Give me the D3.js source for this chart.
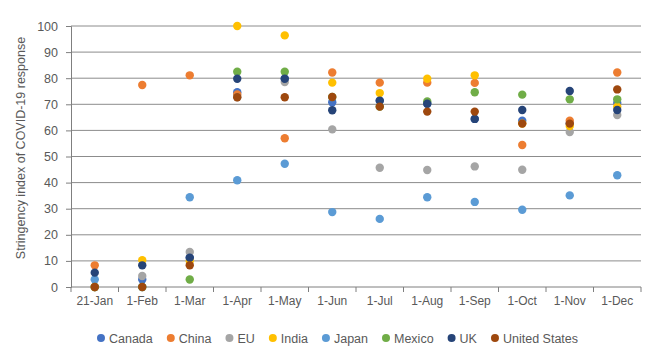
<!DOCTYPE html>
<html><head><meta charset="utf-8">
<script src="https://cdn.jsdelivr.net/npm/d3@7"></script>
<style>body{margin:0;background:#fff}svg{display:block}</style>
</head><body><svg id="c" width="669" height="360"></svg>
<script>
const categories = ["21-Jan","1-Feb","1-Mar","1-Apr","1-May","1-Jun","1-Jul","1-Aug","1-Sep","1-Oct","1-Nov","1-Dec"];
const seriesNames = ["Canada","China","EU","India","Japan","Mexico","UK","United States"];
const colors = ["#4472C4","#ED7D31","#A5A5A5","#FFC000","#5B9BD5","#70AD47","#264478","#9E480E"];
const canada = [0, 2.9, 11.2, 74.6, 79.8, 70.8, 71.4, 70.2, 64.4, 63.7, 62.6, 70.5];
const china = [8.3, 77.4, 81.1, 73.8, 57.0, 82.2, 78.3, 78.3, 78.2, 54.4, 63.7, 82.2];
const eu = [0, 4.2, 13.4, 72.7, 78.5, 60.4, 45.7, 44.8, 46.2, 44.9, 59.4, 65.9];
const india = [0, 10.3, 10, 100, 96.4, 78.3, 74.3, 79.8, 81.1, 62.6, 61.7, 69.1];
const japan = [2.9, 0, 34.4, 40.9, 47.2, 28.7, 26.1, 34.4, 32.6, 29.6, 35.1, 42.8];
const mexico = [0, 0, 2.9, 82.5, 82.5, 72.8, 69.1, 71.1, 74.6, 73.7, 71.9, 71.9];
const uk = [5.5, 8.3, 11.2, 79.8, 79.8, 67.7, 71.4, 70.2, 64.4, 67.8, 75.1, 67.8];
const us = [0, 0, 8.3, 72.7, 72.7, 72.8, 69.1, 67.2, 67.2, 62.6, 62.6, 75.7];
const yTicks = [0,10,20,30,40,50,60,70,80,90,100];
const yTitle = "Stringency index of COVID-19 response";

const values = [canada, china, eu, india, japan, mexico, uk, us];
const svg = d3.select("#c");
const font = "'Liberation Sans', Arial, sans-serif";
const txt = "#595959";
const L = 71, R = 641, T = 26, B = 287;
const x = d3.scaleBand().domain(categories).range([L, R]);
const y = d3.scaleLinear().domain([0, 100]).range([B, T]);

// gridlines
svg.append("g").selectAll("line").data(yTicks.filter(d => d > 0)).join("line")
  .attr("x1", L).attr("x2", R).attr("y1", d => y(d)).attr("y2", d => y(d))
  .attr("stroke", "#8c8c8c").attr("stroke-width", 1);

// y axis
const ya = svg.append("g").attr("transform", `translate(${L},0)`)
  .call(d3.axisLeft(y).tickValues(yTicks).tickSize(5).tickPadding(8));
ya.select(".domain").attr("stroke", "#7f7f7f");
ya.selectAll(".tick line").attr("stroke", "#7f7f7f");
ya.selectAll("text").attr("fill", txt).style("font-family", font).style("font-size", "12.5px");

// x axis
const xa = svg.append("g").attr("transform", `translate(0,${B})`)
  .call(d3.axisBottom(x).tickSize(0).tickPadding(9));
xa.select(".domain").attr("stroke", "#7f7f7f").attr("d", `M${L},0H${R}`);
xa.selectAll("text").attr("fill", txt).style("font-family", font).style("font-size", "12px");
xa.append("g").selectAll("line").data(categories.concat(["__end"])).join("line")
  .attr("x1", (d,i) => L + i * x.step()).attr("x2", (d,i) => L + i * x.step())
  .attr("y1", 0).attr("y2", 5).attr("stroke", "#7f7f7f");

// y title
svg.append("text").attr("transform", "translate(25,148) rotate(-90)")
  .attr("text-anchor", "middle").attr("fill", txt)
  .style("font-family", font).style("font-size", "12.5px").text(yTitle);

// points
values.forEach((vals, si) => {
  svg.append("g").selectAll("circle").data(vals).join("circle")
    .attr("cx", (d,i) => x(categories[i]) + x.bandwidth()/2)
    .attr("cy", d => y(d)).attr("r", 4.2).attr("fill", colors[si]);
});

// legend
const lg = svg.append("g");
let cx = 0;
seriesNames.forEach((n, i) => {
  const g = lg.append("g").attr("transform", `translate(${cx},0)`);
  g.append("circle").attr("cx", 4).attr("cy", 0).attr("r", 4).attr("fill", colors[i]);
  const t = g.append("text").attr("x", 12).attr("y", 4.5).attr("fill", txt)
    .style("font-family", font).style("font-size", "12.5px").text(n);
  cx += 12 + t.node().getComputedTextLength() + 14;
});
const totalW = cx - 14;
lg.attr("transform", `translate(${(98 + 577)/2 - totalW/2},338)`);
</script></body></html>
